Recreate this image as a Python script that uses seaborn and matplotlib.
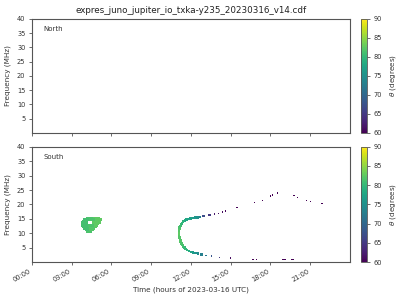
import numpy as np
import pandas as pd
import matplotlib
matplotlib.use("Agg")
import matplotlib.pyplot as plt
import seaborn as sns
from matplotlib.colors import Normalize
import matplotlib.cm as cm

sns.set_style("ticks")
plt.rcParams['font.family'] = ['DejaVu Sans']

title = "expres_juno_jupiter_io_txka-y235_20230316_v14.cdf"
hour_ticks = [0, 3, 6, 9, 12, 15, 18, 21]
hour_labels = ["00:00", "03:00", "06:00", "09:00", "12:00", "15:00", "18:00", "21:00"]
freq_ticks = [5, 10, 15, 20, 25, 30, 35, 40]
panels = ["North", "South"]

# dense part of the arc (South)
arc_time = [11.10, 11.10, 11.10, 11.11, 11.13, 11.16, 11.20, 11.25, 11.32, 11.42, 11.55, 11.68,
            11.82, 11.98, 12.15, 12.32, 12.50, 12.68,
            11.12, 11.14, 11.17, 11.20, 11.24, 11.29, 11.35, 11.42, 11.50, 11.60, 11.72, 11.85,
            12.00, 12.17, 12.35, 12.55, 12.78]
arc_freq = [9.5, 10.0, 10.5, 11.0, 11.5, 12.0, 12.5, 13.0, 13.5, 14.0, 14.4, 14.7,
            14.95, 15.1, 15.25, 15.4, 15.5, 15.65,
            9.0, 8.5, 8.0, 7.5, 7.0, 6.5, 6.0, 5.5, 5.0, 4.6, 4.2, 3.9,
            3.6, 3.35, 3.15, 2.95, 2.75]
arc_theta = [82, 82.5, 82.5, 82, 82, 81.5, 81, 80.5, 80, 79.5, 78.5, 78,
             77.5, 77, 76.5, 76, 75, 73,
             82, 82, 82, 82, 82, 81.5, 81.5, 81, 80.5, 80, 79.5, 78.5,
             77.5, 76.5, 75.5, 74.5, 73]

# sparse cells (South)
dot_time = [12.90, 13.00, 13.33, 13.43, 13.78, 14.08, 14.38, 14.60, 15.47, 16.80, 17.40, 18.00,
            18.15, 18.53, 19.77, 20.05, 20.73, 21.03, 21.90,
            13.15, 13.55, 14.14, 14.99, 16.68, 16.95, 18.90, 19.00, 19.10, 19.60, 19.70]
dot_freq = [16.0, 16.0, 16.4, 16.4, 16.7, 16.95, 17.4, 17.75, 19.0, 20.75, 21.4, 22.9,
            23.3, 23.9, 23.2, 22.5, 21.45, 21.1, 20.4,
            2.3, 2.1, 1.7, 1.4, 1.0, 1.0, 1.0, 1.0, 1.0, 1.0, 1.0]
dot_theta = [67, 67, 65, 65, 62, 61, 61, 60.5, 60, 60, 60, 60,
             60, 60, 60, 60, 60, 60, 60,
             72, 68, 65, 61, 60, 60, 60, 60, 60, 60, 60]

# compact source near 04:00 (South): row segments
blob_freq = [15.5, 15.5, 15.0, 15.0, 15.0, 14.5, 14.5, 14.5, 14.0, 14.0, 13.5, 13.5,
             13.0, 13.0, 13.0, 12.5, 12.5, 12.5, 12.0, 12.0, 11.5, 11.5, 11.0, 11.0, 10.5]
blob_start = [4.10, 4.60, 3.88, 4.30, 4.80, 3.76, 4.30, 4.80, 3.72, 4.55, 3.72, 4.55,
              3.72, 4.25, 4.70, 3.75, 4.25, 4.70, 3.80, 4.35, 3.87, 4.35, 3.98, 4.35, 4.12]
blob_end = [4.60, 5.18, 4.30, 4.80, 5.27, 4.30, 4.80, 5.27, 4.28, 5.25, 4.28, 5.20,
            4.25, 4.70, 5.10, 4.25, 4.70, 5.00, 4.35, 4.90, 4.35, 4.78, 4.35, 4.68, 4.52]
blob_theta = [81.5, 82.5, 81, 81.5, 82.5, 81, 81.5, 82.5, 81, 82.5, 81, 82.5,
              81, 81.5, 82.5, 81, 81.5, 82.5, 81, 82, 81, 82, 81, 82, 81.5]

arc = pd.DataFrame({"time": arc_time, "freq": arc_freq, "theta": arc_theta})
dots = pd.DataFrame({"time": dot_time, "freq": dot_freq, "theta": dot_theta})
blob = pd.DataFrame({"freq": blob_freq, "start": blob_start, "end": blob_end, "theta": blob_theta})

norm = Normalize(60, 90)
cmap = plt.get_cmap("viridis")

fig = plt.figure(figsize=(4, 3), dpi=100)
ax_n = fig.add_axes([0.0793, 0.557, 0.7957, 0.38])
ax_s = fig.add_axes([0.0793, 0.126, 0.7957, 0.385])
cax_n = fig.add_axes([0.9025, 0.557, 0.016, 0.38])
cax_s = fig.add_axes([0.9025, 0.126, 0.016, 0.385])

edge = "#555555"
for ax, name in zip([ax_n, ax_s], panels):
    ax.set_xlim(0, 24)
    ax.set_ylim(0, 40)
    ax.set_yticks(freq_ticks)
    ax.set_xticks(hour_ticks)
    ax.set_ylabel("Frequency (MHz)", fontsize=5.2, color="#333333", labelpad=4)
    ax.tick_params(labelsize=4.8, length=2.5, width=0.6, colors=edge, labelcolor="#333333", pad=2)
    for sp in ax.spines.values():
        sp.set_color(edge)
        sp.set_linewidth(0.8)
    ax.text(0.038, 0.91, name, transform=ax.transAxes, fontsize=5, color="#333333",
            ha="left", va="center")

ax_n.set_xticklabels([])
ax_n.set_title(title, fontsize=6.3, color="#222222", pad=4)

ax_s.barh(blob["freq"], blob["end"] - blob["start"], left=blob["start"], height=0.55,
          color=cmap(norm(blob["theta"].values)), linewidth=0)
sns.scatterplot(data=arc, x="time", y="freq", hue="theta", palette="viridis", hue_norm=(60, 90),
                marker="s", s=3.5, linewidth=0, legend=False, ax=ax_s)
sns.scatterplot(data=dots, x="time", y="freq", hue="theta", palette="viridis", hue_norm=(60, 90),
                marker="s", s=1.0, linewidth=0, legend=False, ax=ax_s)
ax_s.set_xlim(0, 24)
ax_s.set_ylim(0, 40)
ax_s.set_xticks(hour_ticks)
ax_s.set_xticklabels(hour_labels, rotation=30, ha="right")
ax_s.set_xlabel("Time (hours of 2023-03-16 UTC)", fontsize=5.2, color="#333333", labelpad=2)
ax_s.set_ylabel("Frequency (MHz)", fontsize=5.2, color="#333333", labelpad=4)

sm = cm.ScalarMappable(norm=norm, cmap=cmap)
for cax in [cax_n, cax_s]:
    cb = fig.colorbar(sm, cax=cax)
    cb.set_ticks([60, 65, 70, 75, 80, 85, 90])
    cb.ax.tick_params(labelsize=4.8, length=2.5, width=0.6, colors=edge, labelcolor="#333333", pad=2)
    cb.outline.set_edgecolor(edge)
    cb.outline.set_linewidth(0.6)
    cb.set_label(r"$\theta$ (degrees)", fontsize=5.2, color="#333333", labelpad=4)

fig.savefig("out.png", dpi=100)
